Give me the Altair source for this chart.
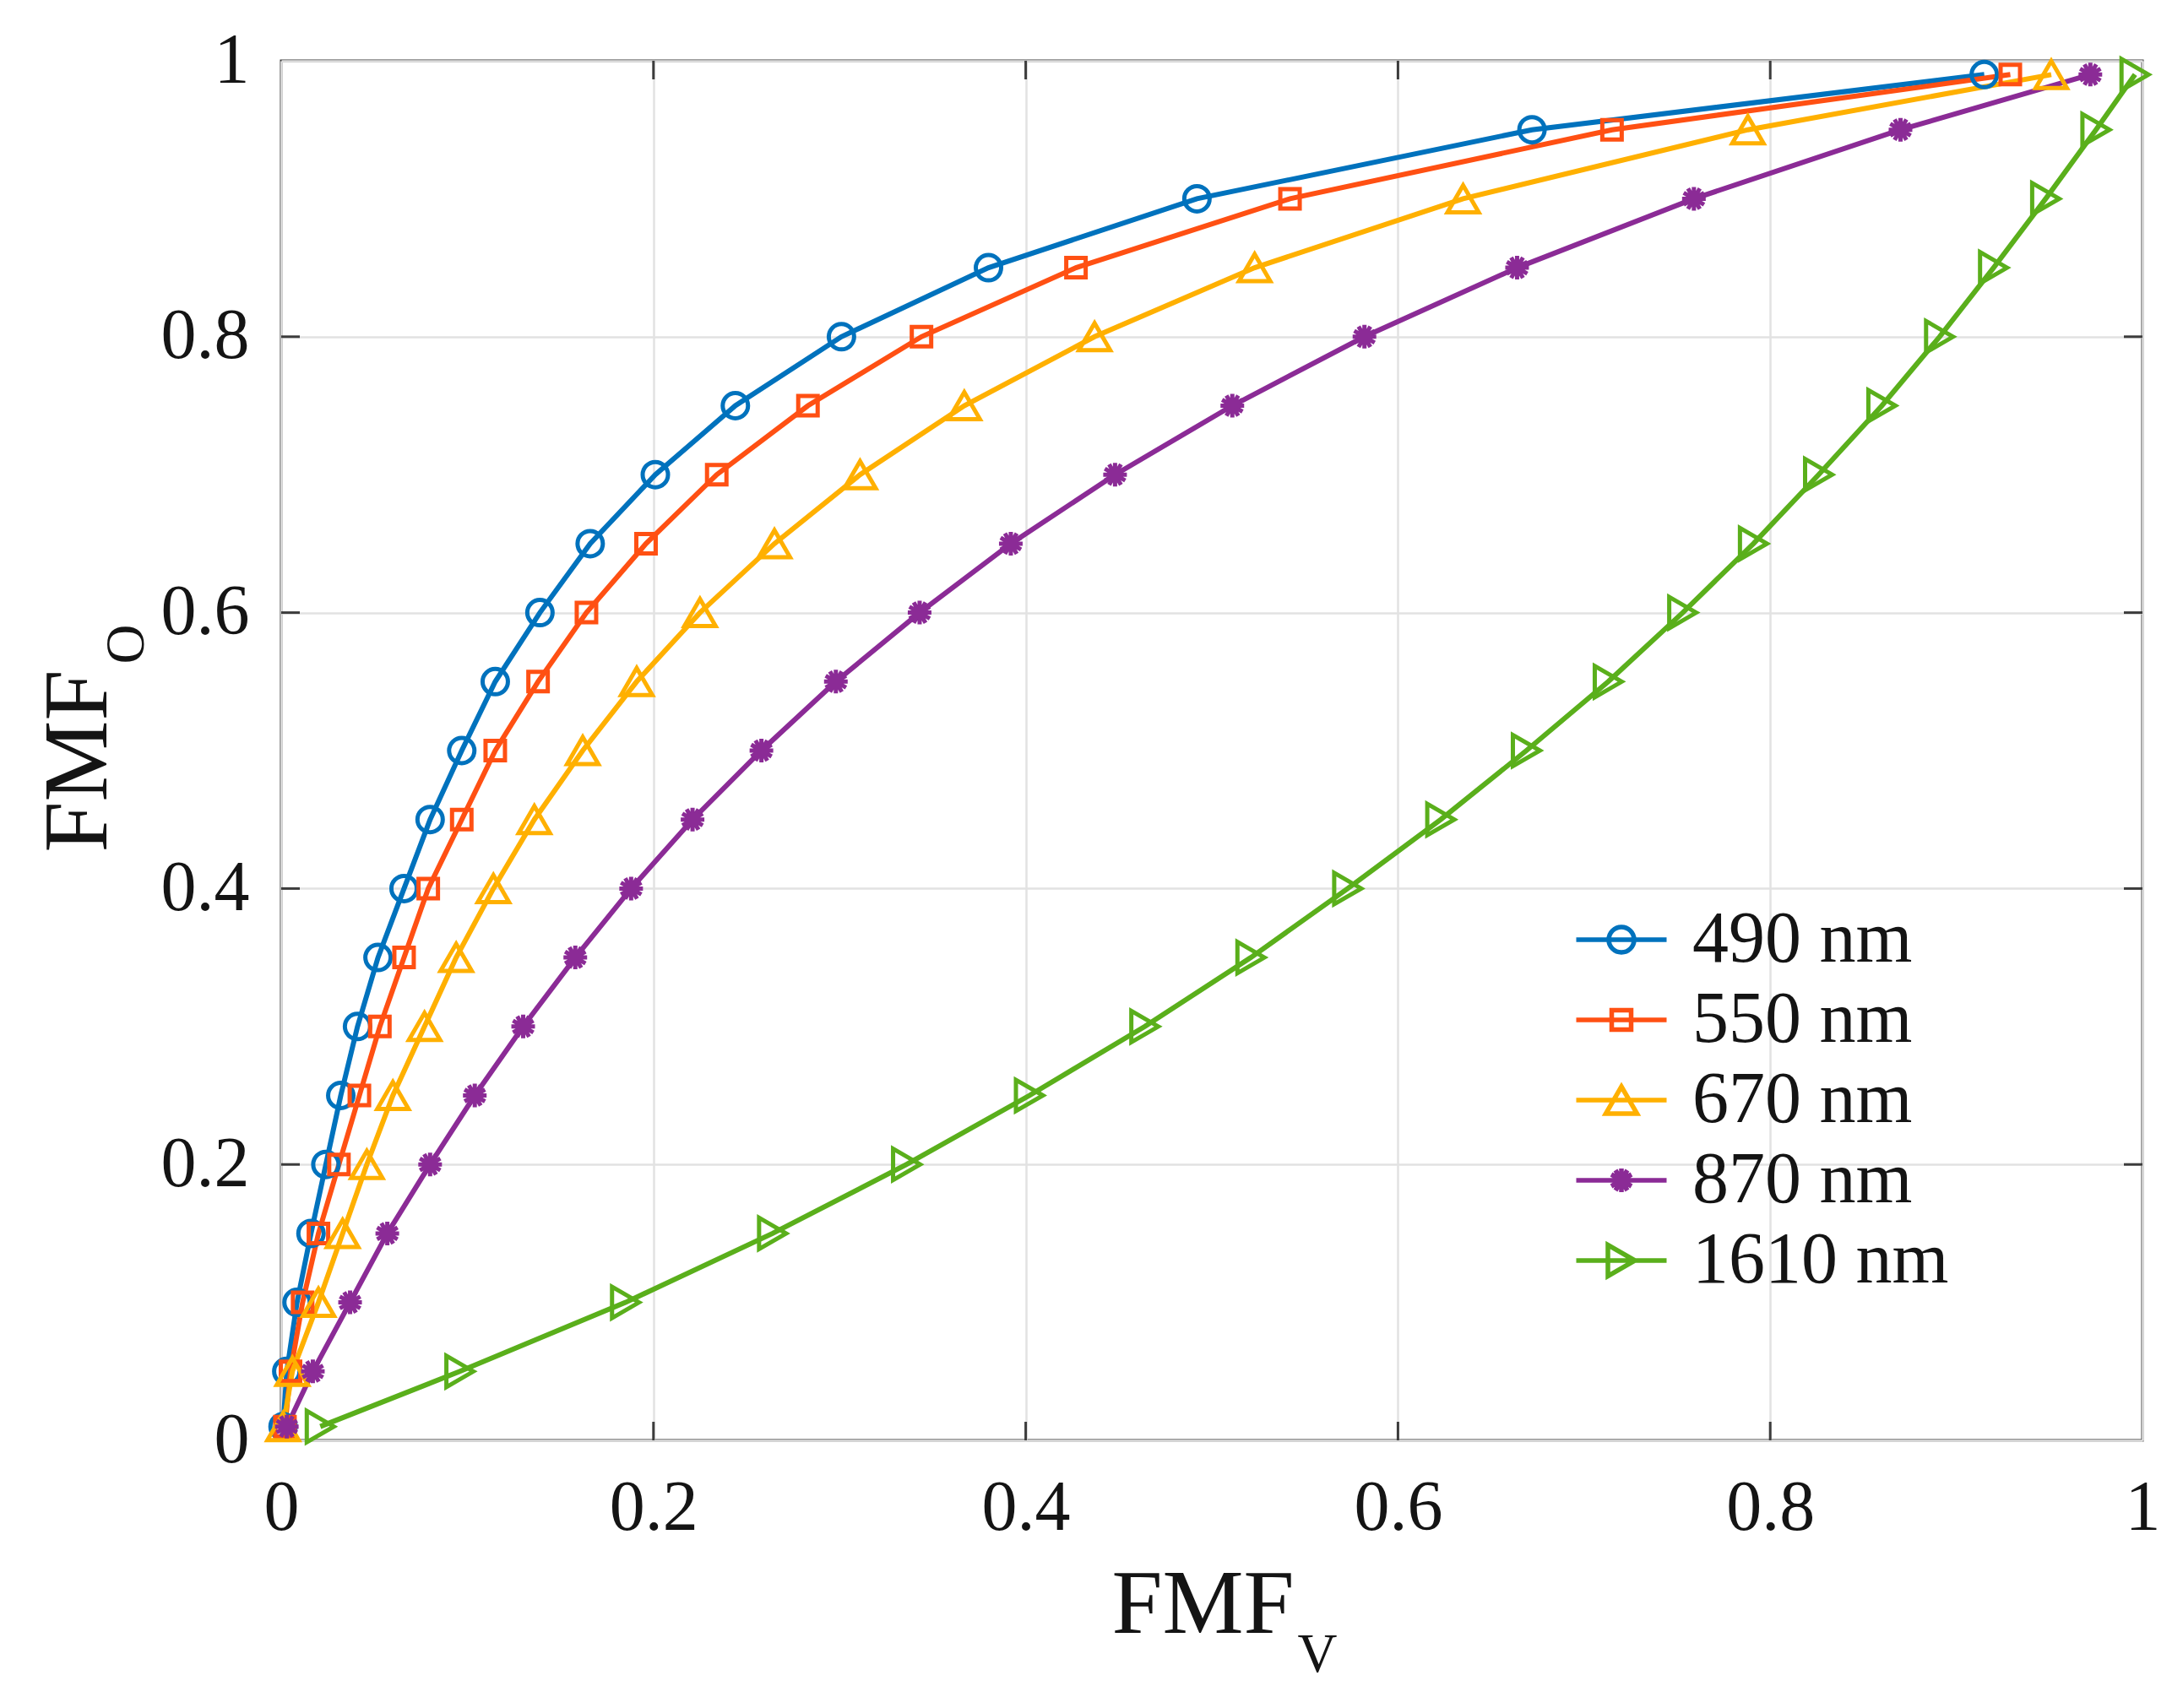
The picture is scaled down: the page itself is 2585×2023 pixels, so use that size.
import altair as alt
import pandas as pd

# ---------------- data ----------------
fmf_o = [0.01, 0.05, 0.10, 0.15, 0.20, 0.25, 0.30, 0.35, 0.40, 0.45, 0.50,
         0.55, 0.60, 0.65, 0.70, 0.75, 0.80, 0.85, 0.90, 0.95, 0.99]

v490 = [0.001, 0.003, 0.0085, 0.016, 0.024, 0.032, 0.041, 0.052, 0.066, 0.080, 0.097,
        0.115, 0.139, 0.166, 0.201, 0.244, 0.301, 0.380, 0.492, 0.672, 0.915]
v550 = [0.002, 0.005, 0.0115, 0.020, 0.031, 0.042, 0.053, 0.066, 0.079, 0.097, 0.115,
        0.138, 0.164, 0.196, 0.234, 0.283, 0.344, 0.427, 0.542, 0.715, 0.929]
v670 = [0.001, 0.006, 0.020, 0.033, 0.046, 0.060, 0.077, 0.094, 0.114, 0.136, 0.162,
        0.191, 0.225, 0.265, 0.311, 0.367, 0.437, 0.523, 0.635, 0.788, 0.951]
v870 = [0.003, 0.017, 0.037, 0.057, 0.080, 0.104, 0.130, 0.158, 0.188, 0.221, 0.258,
        0.298, 0.343, 0.392, 0.448, 0.511, 0.582, 0.664, 0.759, 0.870, 0.972]
v1610 = [0.021, 0.096, 0.185, 0.264, 0.336, 0.402, 0.464, 0.521, 0.573, 0.623, 0.669,
         0.713, 0.753, 0.791, 0.826, 0.860, 0.891, 0.920, 0.948, 0.975, 0.996]

series_names = ["490 nm", "550 nm", "670 nm", "870 nm", "1610 nm"]
series_values = [v490, v550, v670, v870, v1610]
colors = ["#0072BD", "#FF5013", "#FFB000", "#8B2B96", "#5AAF1B"]

tick_values = [0, 0.2, 0.4, 0.6, 0.8, 1]
inner_ticks = [0.2, 0.4, 0.6, 0.8]

# ---------------- styling ----------------
FONT = "Liberation Serif"
TXT = "#141414"
GRID = "#e2e2e2"
BOX = "#3c3c3c"
W, H = 2204, 1634
TL = 22

# marker paths (unit = sqrt(size)/2)
data_paths = [
    "M1.5,0A1.5,1.5,0,1,1,-1.5,0A1.5,1.5,0,1,1,1.5,0Z",
    "M-1.15,-1.15L1.15,-1.15L1.15,1.15L-1.15,1.15Z",
    "M0,-1.6L1.85,1.6L-1.85,1.6Z",
    "M0,-1.4L0,1.4M-1.4,0L1.4,0M-1.21,-0.7L1.21,0.7M-1.21,0.7L1.21,-0.7"
    "M-0.7,-1.21L0.7,1.21M-0.7,1.21L0.7,-1.21",
    "M1.6,0L-1.6,-1.85L-1.6,1.85Z",
]
LINE = "M-2.675,0L2.675,0"
legend_paths = [
    LINE + "M0.75,0A0.75,0.75,0,1,1,-0.75,0A0.75,0.75,0,1,1,0.75,0Z",
    LINE + "M-0.575,-0.575L0.575,-0.575L0.575,0.575L-0.575,0.575Z",
    LINE + "M0,-0.8L0.925,0.8L-0.925,0.8Z",
    LINE + "M0,-0.7L0,0.7M-0.6,-0.35L0.6,0.35M-0.6,0.35L0.6,-0.35"
    "M-0.35,-0.6L0.35,0.6M-0.35,0.6L0.35,-0.6",
    LINE + "M0.8,0L-0.8,-0.925L-0.8,0.925Z",
]

rows = []
for name, vals in zip(series_names, series_values):
    for xv, yv in zip(vals, fmf_o):
        rows.append({"series": name, "fmfv": xv, "fmfo": yv})
df = pd.DataFrame(rows)

xs = alt.Scale(domain=[0, 1], nice=False, zero=False)
ys = alt.Scale(domain=[0, 1], nice=False, zero=False)

x_axis = alt.Axis(values=tick_values, format="~g", title="FMF", grid=True,
                  gridColor=GRID, gridWidth=2.5, ticks=False, tickSize=0, domain=False,
                  labelFont=FONT, labelFontSize=84, labelColor=TXT, labelPadding=105,
                  labelBaseline="alphabetic", labelFlush=False, labelOverlap=False,
                  titleFont=FONT, titleFontSize=108, titleFontWeight="normal",
                  titleColor=TXT, titleX=1091, titleY=227, titleAlign="center",
                  titleBaseline="alphabetic")
y_axis = alt.Axis(values=tick_values, format="~g", title="FMF", grid=True,
                  gridColor=GRID, gridWidth=2.5, ticks=False, tickSize=0, domain=False,
                  labelFont=FONT, labelFontSize=84, labelColor=TXT, labelPadding=38,
                  labelAlign="right", labelBaseline="middle", labelFlush=False,
                  labelOverlap=False,
                  titleFont=FONT, titleFontSize=108, titleFontWeight="normal",
                  titleColor=TXT, titleAngle=270, titleX=-208, titleY=829,
                  titleAlign="center", titleBaseline="alphabetic")

color_scale = alt.Scale(domain=series_names, range=colors)

lines = alt.Chart(df).mark_line(strokeWidth=6).encode(
    x=alt.X("fmfv:Q", scale=xs, axis=x_axis),
    y=alt.Y("fmfo:Q", scale=ys, axis=y_axis),
    color=alt.Color("series:N", scale=color_scale, legend=None),
    order=alt.Order("fmfo:Q"),
)

points = alt.Chart(df).mark_point(filled=False, strokeWidth=5, size=400, opacity=1).encode(
    x=alt.X("fmfv:Q", scale=xs),
    y=alt.Y("fmfo:Q", scale=ys),
    color=alt.Color("series:N", scale=color_scale, legend=None),
    shape=alt.Shape("series:N", scale=alt.Scale(domain=series_names, range=data_paths),
                    legend=None),
)

leg = dict(title=None, orient="none", legendX=1544, legendY=998, padding=0,
           labelFont=FONT, labelFontSize=86, labelColor=TXT, labelOffset=41,
           symbolSize=1600, symbolStrokeWidth=5.5, rowPadding=9, labelLimit=1000)

legend_layer = alt.Chart(df).transform_filter("datum.fmfo > 5").mark_point(
    filled=False, strokeWidth=5.5, size=1600, opacity=1).encode(
    x=alt.X("fmfv:Q", scale=xs),
    y=alt.Y("fmfo:Q", scale=ys),
    color=alt.Color("series:N", scale=color_scale, legend=alt.Legend(**leg)),
    shape=alt.Shape("series:N", scale=alt.Scale(domain=series_names, range=legend_paths),
                    legend=alt.Legend(**leg)),
)

# inward box ticks (MATLAB style)
tx = pd.DataFrame({"fmfv": inner_ticks})
ty = pd.DataFrame({"fmfo": inner_ticks})
tick_b = alt.Chart(tx).mark_rule(color=BOX, strokeWidth=3).encode(
    x=alt.X("fmfv:Q", scale=xs), y=alt.value(H), y2=alt.value(H - TL))
tick_t = alt.Chart(tx).mark_rule(color=BOX, strokeWidth=3).encode(
    x=alt.X("fmfv:Q", scale=xs), y=alt.value(0), y2=alt.value(TL))
tick_l = alt.Chart(ty).mark_rule(color=BOX, strokeWidth=3).encode(
    y=alt.Y("fmfo:Q", scale=ys), x=alt.value(0), x2=alt.value(TL))
tick_r = alt.Chart(ty).mark_rule(color=BOX, strokeWidth=3).encode(
    y=alt.Y("fmfo:Q", scale=ys), x=alt.value(W), x2=alt.value(W - TL))

one = pd.DataFrame({"k": [0]})
sub_x = alt.Chart(one).mark_text(font=FONT, fontSize=65, color=TXT, align="center",
                                 baseline="alphabetic").encode(
    x=alt.value(1227), y=alt.value(1908), text=alt.value("V"))
sub_y = alt.Chart(one).mark_text(font=FONT, fontSize=65, color=TXT, align="center",
                                 baseline="alphabetic", angle=270).encode(
    x=alt.value(-163), y=alt.value(691), text=alt.value("O"))

chart = alt.layer(
    lines, points, legend_layer, tick_b, tick_t, tick_l, tick_r, sub_x, sub_y
).resolve_scale(
    color="independent", shape="independent"
).properties(
    width=W, height=H,
    autosize=alt.AutoSizeParams(type="none"),
    padding={"left": 325, "top": 64, "right": 40, "bottom": 309},
    background="white",
).configure_view(
    stroke=BOX, strokeWidth=3
)

chart.save("out.html", embed_options={"renderer": "svg", "actions": False})
